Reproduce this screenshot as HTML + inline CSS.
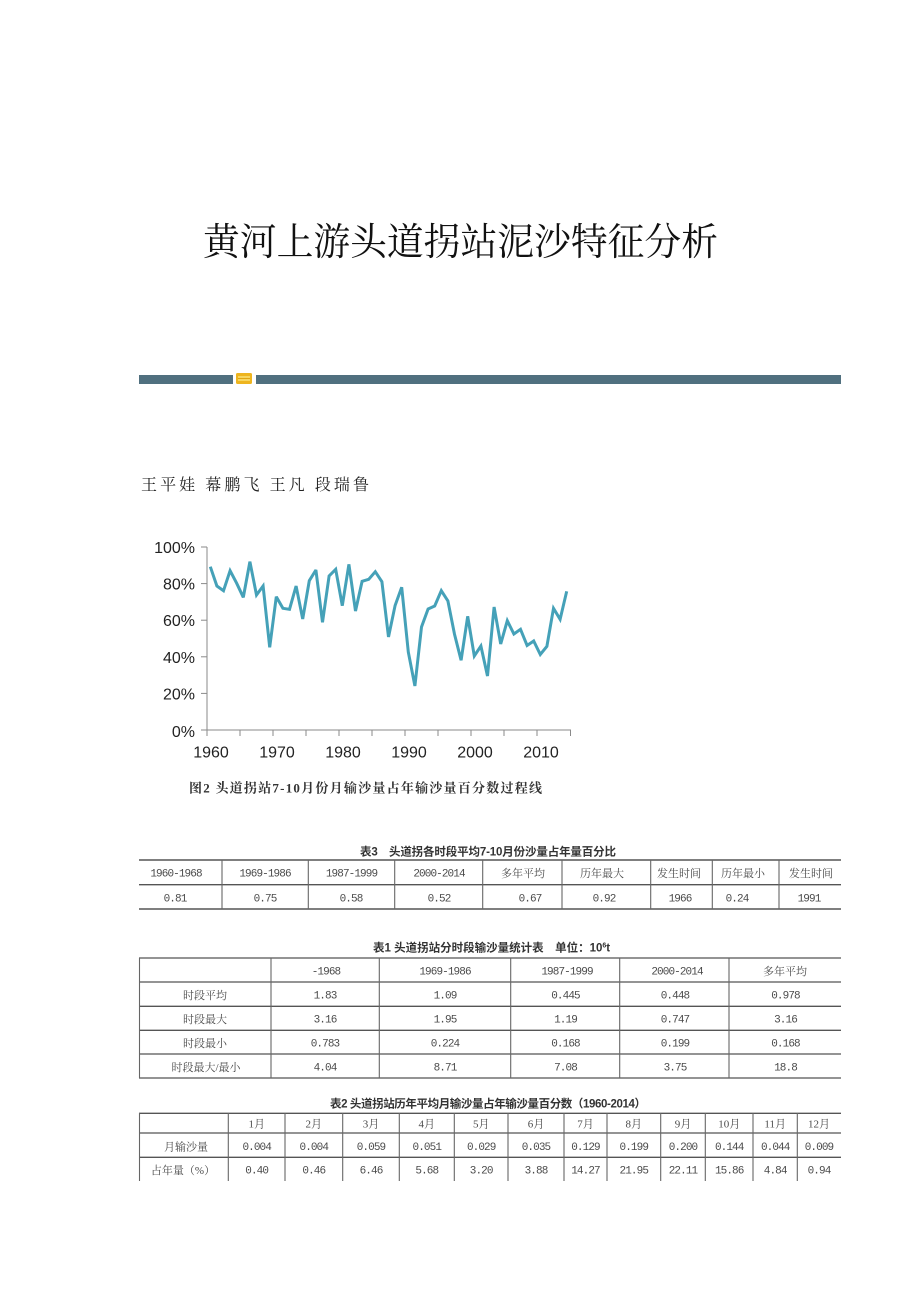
<!DOCTYPE html>
<html>
<head>
<meta charset="utf-8">
<style>
  html,body{margin:0;padding:0;background:#fff;}
  body{width:920px;height:1302px;overflow:hidden;}
  svg{display:block;}
  .cj{font-family:"Liberation Serif","Noto Serif CJK SC",serif;}
  .cap{font-family:"Liberation Sans","Noto Sans CJK SC",sans-serif;font-weight:bold;fill:#333;font-size:11.5px;}
  .num{font-family:"Liberation Mono","Noto Sans CJK SC",monospace;font-size:11px;fill:#4a4a4a;letter-spacing:-0.9px;}
  .cell{font-family:"Liberation Serif","Noto Serif CJK SC",serif;font-size:11px;fill:#4a4a4a;}
  .ax{font-family:"Liberation Sans",sans-serif;font-size:16px;fill:#222;}
</style>
</head>
<body>
<svg width="920" height="1302" viewBox="0 0 920 1302" xmlns="http://www.w3.org/2000/svg">
  <rect width="920" height="1302" fill="#fff"/>

  <!-- Title -->
  <text x="203" y="255" class="cj" font-size="38" fill="#111" textLength="515" lengthAdjust="spacingAndGlyphs">黄河上游头道拐站泥沙特征分析</text>

  <!-- Divider bar -->
  <rect x="139" y="375" width="94" height="9" fill="#50707f"/>
  <rect x="256" y="375" width="585" height="9" fill="#50707f"/>
  <rect x="236" y="373" width="16" height="11" rx="1.5" fill="#eeb51f"/>
  <rect x="238" y="376" width="12" height="5" fill="#f7d660"/>
  <line x1="238" y1="378.5" x2="250" y2="378.5" stroke="#e0a614" stroke-width="1"/>

  <!-- Authors -->
  <text x="141" y="490" class="cj" font-size="16" fill="#222" textLength="228" lengthAdjust="spacing">王平娃 幕鹏飞 王凡 段瑞鲁</text>

  <!-- Chart axes -->
  <g stroke="#8a8a8a" stroke-width="1" fill="none">
    <line x1="207" y1="547" x2="207" y2="730.5"/>
    <line x1="201" y1="547" x2="207" y2="547"/>
    <line x1="201" y1="583.6" x2="207" y2="583.6"/>
    <line x1="201" y1="620.2" x2="207" y2="620.2"/>
    <line x1="201" y1="656.8" x2="207" y2="656.8"/>
    <line x1="201" y1="693.4" x2="207" y2="693.4"/>
    <line x1="201" y1="730" x2="207" y2="730"/>
    <line x1="207" y1="730" x2="571" y2="730"/>
    <line x1="207" y1="730" x2="207" y2="736"/>
    <line x1="240" y1="730" x2="240" y2="736"/>
    <line x1="273" y1="730" x2="273" y2="736"/>
    <line x1="306" y1="730" x2="306" y2="736"/>
    <line x1="339" y1="730" x2="339" y2="736"/>
    <line x1="372" y1="730" x2="372" y2="736"/>
    <line x1="405" y1="730" x2="405" y2="736"/>
    <line x1="438" y1="730" x2="438" y2="736"/>
    <line x1="471" y1="730" x2="471" y2="736"/>
    <line x1="504" y1="730" x2="504" y2="736"/>
    <line x1="537" y1="730" x2="537" y2="736"/>
    <line x1="570.5" y1="730" x2="570.5" y2="736"/>
  </g>

  <!-- Y labels -->
  <g class="ax" text-anchor="end">
    <text x="195" y="553">100%</text>
    <text x="195" y="589.6">80%</text>
    <text x="195" y="626.2">60%</text>
    <text x="195" y="662.8">40%</text>
    <text x="195" y="699.4">20%</text>
    <text x="195" y="737">0%</text>
  </g>
  <!-- X labels -->
  <g class="ax" text-anchor="middle">
    <text x="211" y="757.5">1960</text>
    <text x="277" y="757.5">1970</text>
    <text x="343" y="757.5">1980</text>
    <text x="409" y="757.5">1990</text>
    <text x="475" y="757.5">2000</text>
    <text x="541" y="757.5">2010</text>
  </g>

  <!-- Series -->
  <polyline fill="none" stroke="#45a1b8" stroke-width="3" stroke-linejoin="miter" stroke-miterlimit="3"
    points="210.3,566.7 216.9,586 223.5,590.7 230.1,570.7 236.7,583.3 243.3,597.3 249.9,561.7 256.5,595 263.1,586 269.7,647.3 276.3,596.7 282.9,608.3 289.5,609.3 296.1,586 302.7,619 309.3,580.7 315.9,570 322.5,622.3 329.1,576 335.7,569.3 342.3,605.7 348.9,564.3 355.5,611 362.1,581.3 368.7,579.3 375.3,571.7 381.9,581.7 388.5,637 395.1,605.5 401.7,587.3 408.3,652 414.9,686 421.5,627 428.1,609 434.7,606 441.3,590.7 447.9,601 454.5,634.2 461.1,660.3 467.7,616.3 474.3,656 480.9,646 487.5,676 494.1,607 500.7,644 507.3,620.7 513.9,634 520.5,629.3 527.1,645.5 533.7,641 540.3,654.5 546.9,646.3 553.5,608.3 560.1,619.3 566.7,591.3"/>

  <!-- Chart caption -->
  <text x="189" y="792.5" class="cj" font-size="13" font-weight="bold" fill="#333" textLength="353" lengthAdjust="spacing">图2 头道拐站7-10月份月输沙量占年输沙量百分数过程线</text>

  <!-- ===== Table 3 ===== -->
  <text x="360" y="855.5" class="cap" textLength="256" lengthAdjust="spacing">表3　头道拐各时段平均7-10月份沙量占年量百分比</text>
  <g stroke="#555" stroke-width="1.4">
    <line x1="139" y1="860" x2="841" y2="860"/>
    <line x1="139" y1="884.7" x2="841" y2="884.7"/>
    <line x1="139" y1="909" x2="841" y2="909"/>
  </g>
  <g stroke="#666" stroke-width="1.1">
    <line x1="222" y1="860" x2="222" y2="909"/>
    <line x1="308.3" y1="860" x2="308.3" y2="909"/>
    <line x1="394.7" y1="860" x2="394.7" y2="909"/>
    <line x1="482.7" y1="860" x2="482.7" y2="909"/>
    <line x1="562" y1="860" x2="562" y2="909"/>
    <line x1="650.7" y1="860" x2="650.7" y2="909"/>
    <line x1="712.3" y1="860" x2="712.3" y2="909"/>
    <line x1="779" y1="860" x2="779" y2="909"/>
  </g>
  <g text-anchor="middle">
    <text x="176" y="876.5" class="num">1960-1968</text>
    <text x="265" y="876.5" class="num">1969-1986</text>
    <text x="351.5" y="876.5" class="num">1987-1999</text>
    <text x="439" y="876.5" class="num">2000-2014</text>
    <text x="523" y="877" class="cell">多年平均</text>
    <text x="602" y="877" class="cell">历年最大</text>
    <text x="679" y="877" class="cell">发生时间</text>
    <text x="743" y="877" class="cell">历年最小</text>
    <text x="811" y="877" class="cell">发生时间</text>

    <text x="175" y="901.5" class="num">0.81</text>
    <text x="265" y="901.5" class="num">0.75</text>
    <text x="351" y="901.5" class="num">0.58</text>
    <text x="439" y="901.5" class="num">0.52</text>
    <text x="530" y="901.5" class="num">0.67</text>
    <text x="604" y="901.5" class="num">0.92</text>
    <text x="680" y="901.5" class="num">1966</text>
    <text x="737" y="901.5" class="num">0.24</text>
    <text x="809" y="901.5" class="num">1991</text>
  </g>

  <!-- ===== Table 1 ===== -->
  <text x="373" y="951.5" class="cap">表1 头道拐站分时段输沙量统计表　单位：10<tspan font-size="7" dy="-4">6</tspan><tspan dy="4">t</tspan></text>
  <g stroke="#555" stroke-width="1.3">
    <line x1="139" y1="958" x2="841" y2="958"/>
    <line x1="139" y1="982" x2="841" y2="982"/>
    <line x1="139" y1="1006.3" x2="841" y2="1006.3"/>
    <line x1="139" y1="1030.3" x2="841" y2="1030.3"/>
    <line x1="139" y1="1054" x2="841" y2="1054"/>
    <line x1="139" y1="1078" x2="841" y2="1078"/>
  </g>
  <g stroke="#666" stroke-width="1.1">
    <line x1="139.5" y1="958" x2="139.5" y2="1078"/>
    <line x1="271" y1="958" x2="271" y2="1078"/>
    <line x1="379.3" y1="958" x2="379.3" y2="1078"/>
    <line x1="510.7" y1="958" x2="510.7" y2="1078"/>
    <line x1="619.7" y1="958" x2="619.7" y2="1078"/>
    <line x1="729" y1="958" x2="729" y2="1078"/>
  </g>
  <g text-anchor="middle">
    <text x="326" y="974.5" class="num">-1968</text>
    <text x="445" y="974.5" class="num">1969-1986</text>
    <text x="567" y="974.5" class="num">1987-1999</text>
    <text x="677" y="974.5" class="num">2000-2014</text>
    <text x="785" y="975" class="cell">多年平均</text>

    <text x="205" y="999" class="cell">时段平均</text>
    <text x="325" y="998.5" class="num">1.83</text>
    <text x="445" y="998.5" class="num">1.09</text>
    <text x="565.5" y="998.5" class="num">0.445</text>
    <text x="675" y="998.5" class="num">0.448</text>
    <text x="785.5" y="998.5" class="num">0.978</text>

    <text x="205" y="1023" class="cell">时段最大</text>
    <text x="325" y="1022.5" class="num">3.16</text>
    <text x="445" y="1022.5" class="num">1.95</text>
    <text x="565.5" y="1022.5" class="num">1.19</text>
    <text x="675" y="1022.5" class="num">0.747</text>
    <text x="785.5" y="1022.5" class="num">3.16</text>

    <text x="205" y="1047" class="cell">时段最小</text>
    <text x="325" y="1046.5" class="num">0.783</text>
    <text x="445" y="1046.5" class="num">0.224</text>
    <text x="565.5" y="1046.5" class="num">0.168</text>
    <text x="675" y="1046.5" class="num">0.199</text>
    <text x="785.5" y="1046.5" class="num">0.168</text>

    <text x="206" y="1071" class="cell">时段最大/最小</text>
    <text x="325" y="1070.5" class="num">4.04</text>
    <text x="445" y="1070.5" class="num">8.71</text>
    <text x="565.5" y="1070.5" class="num">7.08</text>
    <text x="675" y="1070.5" class="num">3.75</text>
    <text x="785.5" y="1070.5" class="num">18.8</text>
  </g>

  <!-- ===== Table 2 ===== -->
  <text x="330" y="1107.5" class="cap" textLength="316" lengthAdjust="spacing">表2 头道拐站历年平均月输沙量占年输沙量百分数（1960-2014）</text>
  <g stroke="#555" stroke-width="1.3">
    <line x1="139" y1="1113.3" x2="841" y2="1113.3"/>
    <line x1="139" y1="1133" x2="841" y2="1133"/>
    <line x1="139" y1="1157.3" x2="841" y2="1157.3"/>
  </g>
  <g stroke="#666" stroke-width="1.1">
    <line x1="139.5" y1="1113" x2="139.5" y2="1181"/>
    <line x1="228.3" y1="1113" x2="228.3" y2="1181"/>
    <line x1="285" y1="1113" x2="285" y2="1181"/>
    <line x1="342.7" y1="1113" x2="342.7" y2="1181"/>
    <line x1="399.3" y1="1113" x2="399.3" y2="1181"/>
    <line x1="454.3" y1="1113" x2="454.3" y2="1181"/>
    <line x1="508" y1="1113" x2="508" y2="1181"/>
    <line x1="564" y1="1113" x2="564" y2="1181"/>
    <line x1="607" y1="1113" x2="607" y2="1181"/>
    <line x1="660.7" y1="1113" x2="660.7" y2="1181"/>
    <line x1="705.3" y1="1113" x2="705.3" y2="1181"/>
    <line x1="753" y1="1113" x2="753" y2="1181"/>
    <line x1="797.3" y1="1113" x2="797.3" y2="1181"/>
  </g>
  <g text-anchor="middle">
    <text x="256.7" y="1127.5" class="cell">1月</text>
    <text x="313.8" y="1127.5" class="cell">2月</text>
    <text x="371" y="1127.5" class="cell">3月</text>
    <text x="426.8" y="1127.5" class="cell">4月</text>
    <text x="481.2" y="1127.5" class="cell">5月</text>
    <text x="536" y="1127.5" class="cell">6月</text>
    <text x="585.5" y="1127.5" class="cell">7月</text>
    <text x="633.8" y="1127.5" class="cell">8月</text>
    <text x="683" y="1127.5" class="cell">9月</text>
    <text x="729.2" y="1127.5" class="cell">10月</text>
    <text x="775.2" y="1127.5" class="cell">11月</text>
    <text x="819" y="1127.5" class="cell">12月</text>

    <text x="186" y="1150.5" class="cell">月输沙量</text>
    <text x="256.7" y="1150" class="num">0.004</text>
    <text x="313.8" y="1150" class="num">0.004</text>
    <text x="371" y="1150" class="num">0.059</text>
    <text x="426.8" y="1150" class="num">0.051</text>
    <text x="481.2" y="1150" class="num">0.029</text>
    <text x="536" y="1150" class="num">0.035</text>
    <text x="585.5" y="1150" class="num">0.129</text>
    <text x="633.8" y="1150" class="num">0.199</text>
    <text x="683" y="1150" class="num">0.200</text>
    <text x="729.2" y="1150" class="num">0.144</text>
    <text x="775.2" y="1150" class="num">0.044</text>
    <text x="819" y="1150" class="num">0.009</text>

    <text x="183" y="1174" class="cell">占年量（%）</text>
    <text x="256.7" y="1173.5" class="num">0.40</text>
    <text x="313.8" y="1173.5" class="num">0.46</text>
    <text x="371" y="1173.5" class="num">6.46</text>
    <text x="426.8" y="1173.5" class="num">5.68</text>
    <text x="481.2" y="1173.5" class="num">3.20</text>
    <text x="536" y="1173.5" class="num">3.88</text>
    <text x="585.5" y="1173.5" class="num">14.27</text>
    <text x="633.8" y="1173.5" class="num">21.95</text>
    <text x="683" y="1173.5" class="num">22.11</text>
    <text x="729.2" y="1173.5" class="num">15.86</text>
    <text x="775.2" y="1173.5" class="num">4.84</text>
    <text x="819" y="1173.5" class="num">0.94</text>
  </g>
</svg>
</body>
</html>
